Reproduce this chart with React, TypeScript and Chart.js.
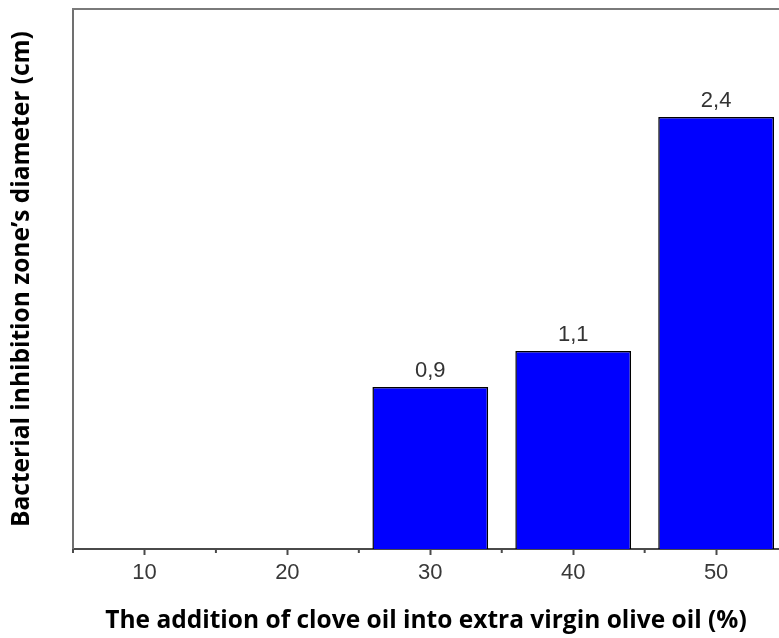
import React, { useEffect, useRef } from 'react';
import { Chart, registerables } from 'chart.js';

Chart.register(...registerables);

const categories = [10, 20, 30, 40, 50];
const values = [0, 0, 0.9, 1.1, 2.4];
const majorTicks = [10, 20, 30, 40, 50];
const minorTicks = [5, 15, 25, 35, 45, 55];
const xTitle = 'The addition of clove oil into extra virgin olive oil (%)';
const yTitle = 'Bacterial inhibition zone\u2019s diameter (cm)';

const framePlugin = {
  id: 'frameAndLabels',
  afterDatasetsDraw(chart: any) {
    const ctx = chart.ctx;
    const area = chart.chartArea;
    const xs = chart.scales.x;
    ctx.save();
    // top frame line
    ctx.strokeStyle = '#7a7a7a';
    ctx.lineWidth = 2;
    ctx.beginPath();
    ctx.moveTo(area.left - 1, area.top);
    ctx.lineTo(area.right + 2, area.top);
    ctx.stroke();
    // minor ticks
    ctx.strokeStyle = '#4a4a4a';
    ctx.lineWidth = 2;
    minorTicks.forEach((v) => {
      const px = xs.getPixelForValue(v);
      if (px < area.left - 1 || px > area.right + 1) return;
      ctx.beginPath();
      ctx.moveTo(px, area.bottom);
      ctx.lineTo(px, area.bottom + 4);
      ctx.stroke();
    });
    // value labels
    const meta = chart.getDatasetMeta(0);
    ctx.fillStyle = '#333333';
    ctx.font = '22px "Liberation Sans", Arial, sans-serif';
    ctx.textAlign = 'center';
    ctx.textBaseline = 'alphabetic';
    meta.data.forEach((el: any, i: number) => {
      if (values[i] > 0) {
        ctx.fillText(String(values[i]).replace('.', ','), el.x, el.y - 10);
      }
    });
    ctx.restore();
  },
};

export default function App() {
  const canvasRef = useRef<HTMLCanvasElement | null>(null);

  useEffect(() => {
    if (!canvasRef.current) return;
    const chart = new Chart(canvasRef.current, {
      type: 'bar',
      data: {
        datasets: [
          {
            data: categories.map((c, i) => ({ x: c, y: values[i] })),
            backgroundColor: '#0000ff',
            borderColor: '#000000',
            borderWidth: (c: any) => (c.raw && c.raw.y > 0 ? 1.5 : 0),
            borderSkipped: 'start',
            barPercentage: 0.81,
            categoryPercentage: 1,
          } as any,
        ],
      },
      options: {
        animation: false,
        responsive: true,
        maintainAspectRatio: false,
        layout: { padding: { top: 9, left: 0, right: 0, bottom: 0 } },
        plugins: { legend: { display: false }, tooltip: { enabled: false } },
        scales: {
          x: {
            type: 'linear',
            min: 5,
            max: 54.4,
            offset: false,
            grid: {
              display: true,
              offset: false,
              drawOnChartArea: false,
              drawTicks: true,
              tickLength: 6,
              tickColor: '#4a4a4a',
              tickWidth: 2,
            },
            border: { display: true, color: '#4a4a4a', width: 2 },
            ticks: {
              font: { family: '"Liberation Sans", Arial, sans-serif', size: 22 },
              color: '#383838',
              padding: 5,
              maxRotation: 0,
              autoSkip: false,
            },
            afterBuildTicks: (s: any) => {
              s.ticks = majorTicks.map((v) => ({ value: v }));
            },
            afterFit: (s: any) => {
              s.height = 89;
            },
            title: {
              display: true,
              text: xTitle,
              font: { family: '"Open Sans"', size: 24.5, weight: 'bold' },
              color: '#000000',
              padding: { top: 0, bottom: 2 },
            },
          } as any,
          y: {
            min: 0,
            max: 3,
            ticks: { display: false },
            grid: { display: false },
            border: { display: true, color: '#707070', width: 2 },
            afterFit: (s: any) => {
              s.width = 73;
            },
            title: {
              display: true,
              text: yTitle,
              font: { family: '"Open Sans"', size: 24.5, weight: 'bold' },
              color: '#000000',
              padding: { top: 7, bottom: 0 },
            },
          } as any,
        },
      },
      plugins: [framePlugin],
    });
    return () => chart.destroy();
  }, []);

  return (
    <div style={{ position: 'fixed', left: 0, top: 0, width: 779, height: 638, background: '#fff' }}>
      <canvas ref={canvasRef} />
    </div>
  );
}
